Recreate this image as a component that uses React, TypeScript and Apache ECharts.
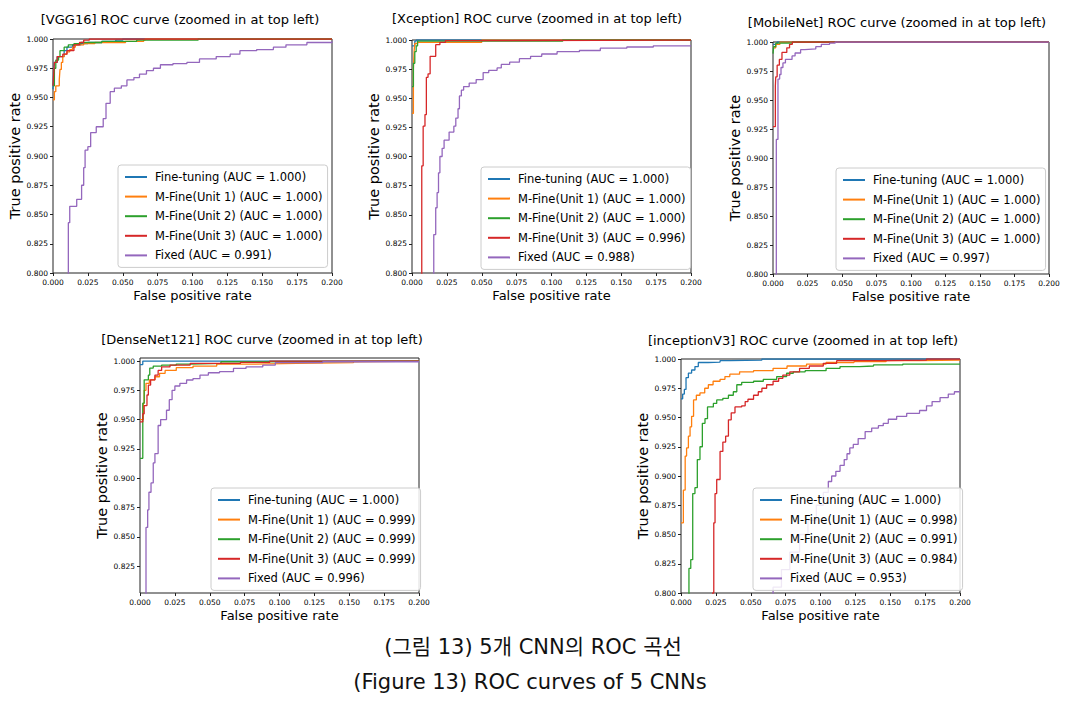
import React, { useEffect, useRef } from "react";
import * as echarts from "echarts";

// ---------- DATA ----------
const curveLabels = ["Fine-tuning", "M-Fine(Unit 1)", "M-Fine(Unit 2)", "M-Fine(Unit 3)", "Fixed"];
const curveColors = ["#1f77b4", "#ff7f0e", "#2ca02c", "#d62728", "#9467bd"];
const panelTitles = [
  "[VGG16] ROC curve (zoomed in at top left)",
  "[Xception] ROC curve (zoomed in at top left)",
  "[MobileNet] ROC curve (zoomed in at top left)",
  "[DenseNet121] ROC curve (zoomed in at top left)",
  "[inceptionV3] ROC curve (zoomed in at top left)",
];
const xTickValues = [0, 0.025, 0.05, 0.075, 0.1, 0.125, 0.15, 0.175, 0.2];
const yTickValuesDense = [0.825, 0.85, 0.875, 0.9, 0.925, 0.95, 0.975, 1.0];
const captionKo = "(그림 13) 5개 CNN의 ROC 곡선";
const captionEn = "(Figure 13) ROC curves of 5 CNNs";

const aucVGG16 = [1.0, 1.0, 1.0, 1.0, 0.991];
const aucXception = [1.0, 1.0, 1.0, 0.996, 0.988];
const aucMobileNet = [1.0, 1.0, 1.0, 1.0, 0.997];
const aucDenseNet = [1.0, 0.999, 0.999, 0.999, 0.996];
const aucInception = [1.0, 0.998, 0.991, 0.984, 0.953];

// VGG16 curves [fpr, tpr]
const vggFine = [[0, 0.957], [0.0005, 0.975], [0.001, 0.98], [0.003, 0.985], [0.008, 0.99], [0.01, 0.993], [0.014, 0.995], [0.02, 0.996], [0.025, 0.997], [0.035, 0.998], [0.045, 0.999], [0.05, 1.0], [0.2, 1.0]];
const vggUnit1 = [[0, 0.948], [0.001, 0.955], [0.002, 0.96], [0.0045, 0.965], [0.005, 0.974], [0.006, 0.98], [0.007, 0.985], [0.008, 0.987], [0.01, 0.989], [0.012, 0.991], [0.014, 0.993], [0.016, 0.995], [0.022, 0.996], [0.03, 0.997], [0.052, 0.998], [0.065, 0.999], [0.066, 1.0], [0.2, 1.0]];
const vggUnit2 = [[0, 0.96], [0.001, 0.975], [0.002, 0.982], [0.004, 0.985], [0.005, 0.99], [0.008, 0.993], [0.011, 0.995], [0.015, 0.996], [0.02, 0.997], [0.035, 0.998], [0.06, 0.999], [0.104, 1.0], [0.2, 1.0]];
const vggUnit3 = [[0, 0.96], [0.0005, 0.97], [0.001, 0.98], [0.003, 0.985], [0.007, 0.987], [0.01, 0.99], [0.015, 0.995], [0.019, 0.997], [0.022, 0.999], [0.026, 1.0], [0.2, 1.0]];
const vggFixed = [[0.011, 0.75], [0.011, 0.843], [0.012, 0.857], [0.017, 0.863], [0.0205, 0.875], [0.022, 0.89], [0.023, 0.905], [0.025, 0.908], [0.027, 0.92], [0.031, 0.925], [0.036, 0.932], [0.038, 0.945], [0.041, 0.955], [0.044, 0.958], [0.049, 0.96], [0.053, 0.965], [0.058, 0.967], [0.062, 0.97], [0.067, 0.973], [0.072, 0.975], [0.077, 0.978], [0.086, 0.979], [0.096, 0.98], [0.105, 0.983], [0.117, 0.985], [0.127, 0.987], [0.134, 0.99], [0.146, 0.991], [0.158, 0.993], [0.167, 0.995], [0.182, 0.997], [0.2, 0.998]];

// Xception curves
const xcpFine = [[0, 0.995], [0.002, 0.999], [0.003, 1.0], [0.2, 1.0]];
const xcpUnit1 = [[0, 0.937], [0.001, 0.975], [0.0015, 0.99], [0.002, 0.997], [0.004, 0.998], [0.05, 0.999], [0.05, 1.0], [0.2, 1.0]];
const xcpUnit2 = [[0, 0.96], [0.001, 0.98], [0.002, 0.99], [0.003, 0.995], [0.004, 0.999], [0.108, 0.999], [0.108, 1.0], [0.2, 1.0]];
const xcpUnit3 = [[0.007, 0.75], [0.007, 0.892], [0.008, 0.926], [0.0093, 0.936], [0.0103, 0.968], [0.0115, 0.971], [0.013, 0.986], [0.017, 0.996], [0.02, 0.998], [0.024, 0.9994], [0.032, 1.0], [0.2, 1.0]];
const xcpFixed = [[0.0156, 0.75], [0.0156, 0.833], [0.017, 0.856], [0.018, 0.869], [0.019, 0.886], [0.02, 0.9], [0.0216, 0.907], [0.023, 0.914], [0.0266, 0.921], [0.03, 0.926], [0.0314, 0.933], [0.033, 0.941], [0.034, 0.952], [0.0354, 0.957], [0.037, 0.96], [0.041, 0.963], [0.046, 0.966], [0.051, 0.972], [0.055, 0.974], [0.061, 0.976], [0.064, 0.979], [0.07, 0.981], [0.077, 0.984], [0.085, 0.986], [0.093, 0.988], [0.104, 0.99], [0.12, 0.991], [0.135, 0.993], [0.154, 0.994], [0.173, 0.995], [0.2, 0.995]];

// MobileNet curves
const mobFine = [[0, 0.998], [0.003, 1.0], [0.2, 1.0]];
const mobUnit1 = [[0, 0.995], [0.002, 0.998], [0.005, 1.0], [0.2, 1.0]];
const mobUnit2 = [[0, 0.99], [0.0005, 0.996], [0.002, 0.999], [0.014, 1.0], [0.2, 1.0]];
const mobUnit3 = [[0, 0.927], [0.0017, 0.962], [0.002, 0.97], [0.003, 0.98], [0.0046, 0.985], [0.0065, 0.991], [0.01, 0.995], [0.012, 0.998], [0.014, 1.0], [0.2, 1.0]];
const mobFixed = [[0.0024, 0.75], [0.0024, 0.916], [0.0036, 0.968], [0.0048, 0.972], [0.0058, 0.978], [0.0072, 0.982], [0.009, 0.985], [0.0138, 0.988], [0.016, 0.9905], [0.02, 0.9934], [0.023, 0.994], [0.031, 0.996], [0.035, 0.998], [0.041, 0.999], [0.045, 1.0], [0.2, 1.0]];

// DenseNet121 curves
const dnsFine = [[0, 0.997], [0.002, 1.0], [0.2, 1.0]];
const dnsUnit1 = [[0, 0.95], [0.0024, 0.964], [0.003, 0.975], [0.0043, 0.981], [0.0067, 0.984], [0.0107, 0.9866], [0.014, 0.9895], [0.018, 0.992], [0.026, 0.9943], [0.038, 0.9957], [0.055, 0.9974], [0.083, 0.998], [0.112, 0.9986], [0.153, 0.9994], [0.153, 1.0], [0.2, 1.0]];
const dnsUnit2 = [[0, 0.917], [0.002, 0.964], [0.003, 0.984], [0.006, 0.988], [0.007, 0.994], [0.0095, 0.9957], [0.0155, 0.9966], [0.026, 0.9974], [0.036, 0.998], [0.058, 0.9994], [0.083, 1.0], [0.2, 1.0]];
const dnsUnit3 = [[0, 0.948], [0.002, 0.955], [0.003, 0.962], [0.005, 0.971], [0.006, 0.9795], [0.0076, 0.984], [0.0107, 0.988], [0.013, 0.992], [0.0155, 0.995], [0.0215, 0.9966], [0.036, 0.998], [0.072, 0.9989], [0.093, 1.0], [0.2, 1.0]];
const dnsFixed = [[0.0043, 0.75], [0.0043, 0.858], [0.0055, 0.873], [0.0064, 0.888], [0.0079, 0.896], [0.0095, 0.913], [0.0107, 0.921], [0.013, 0.945], [0.0148, 0.95], [0.019, 0.958], [0.021, 0.967], [0.023, 0.975], [0.025, 0.9787], [0.0286, 0.981], [0.0334, 0.9838], [0.038, 0.985], [0.043, 0.988], [0.049, 0.99], [0.057, 0.9909], [0.067, 0.9937], [0.076, 0.995], [0.088, 0.9966], [0.097, 0.9986], [0.131, 0.9994], [0.2, 0.9994]];

// inceptionV3 curves
const incFine = [[0, 0.966], [0.0012, 0.97], [0.0024, 0.974], [0.0036, 0.984], [0.0053, 0.988], [0.0076, 0.9906], [0.01, 0.9935], [0.0124, 0.997], [0.0196, 0.9974], [0.028, 0.9986], [0.035, 0.9991], [0.058, 1.0], [0.2, 1.0]];
const incUnit1 = [[0, 0.86], [0.0017, 0.888], [0.003, 0.917], [0.004, 0.924], [0.0053, 0.934], [0.0065, 0.942], [0.0076, 0.951], [0.009, 0.965], [0.011, 0.969], [0.0136, 0.971], [0.017, 0.975], [0.0196, 0.978], [0.023, 0.981], [0.028, 0.9826], [0.0315, 0.985], [0.035, 0.987], [0.042, 0.989], [0.052, 0.99], [0.066, 0.992], [0.076, 0.994], [0.09, 0.9957], [0.104, 0.997], [0.124, 0.9977], [0.147, 0.9986], [0.171, 0.9991], [0.2, 0.9991]];
const incUnit2 = [[0.0057, 0.75], [0.0057, 0.821], [0.007, 0.8285], [0.0084, 0.885], [0.01, 0.89], [0.0117, 0.914], [0.0136, 0.925], [0.0153, 0.945], [0.0172, 0.949], [0.019, 0.959], [0.0232, 0.962], [0.0256, 0.965], [0.03, 0.9664], [0.034, 0.969], [0.0375, 0.972], [0.04, 0.978], [0.0435, 0.98], [0.052, 0.981], [0.059, 0.9826], [0.0686, 0.985], [0.0757, 0.9878], [0.0805, 0.989], [0.089, 0.99], [0.104, 0.992], [0.114, 0.9935], [0.128, 0.994], [0.138, 0.9949], [0.159, 0.9957], [0.2, 0.9957]];
const incUnit3 = [[0.0227, 0.75], [0.0227, 0.8], [0.0235, 0.86], [0.0244, 0.885], [0.0256, 0.897], [0.028, 0.921], [0.03, 0.929], [0.032, 0.934], [0.034, 0.948], [0.036, 0.954], [0.0387, 0.959], [0.0435, 0.96], [0.046, 0.9636], [0.048, 0.9656], [0.052, 0.969], [0.0554, 0.972], [0.058, 0.975], [0.0614, 0.978], [0.066, 0.981], [0.07, 0.9835], [0.073, 0.9863], [0.078, 0.989], [0.085, 0.992], [0.092, 0.994], [0.102, 0.9963], [0.1116, 0.9986], [0.147, 0.9991], [0.176, 1.0], [0.2, 1.0]];
const incFixed = [[0.064, 0.75], [0.064, 0.797], [0.066, 0.805], [0.072, 0.82], [0.078, 0.835], [0.085, 0.85], [0.091, 0.862], [0.097, 0.875], [0.102, 0.886], [0.1056, 0.8953], [0.108, 0.9], [0.111, 0.904], [0.114, 0.909], [0.117, 0.914], [0.119, 0.919], [0.121, 0.924], [0.1235, 0.927], [0.127, 0.932], [0.132, 0.938], [0.1367, 0.941], [0.1415, 0.943], [0.145, 0.945], [0.1486, 0.9485], [0.1546, 0.951], [0.1618, 0.9536], [0.171, 0.956], [0.176, 0.96], [0.18, 0.9636], [0.1857, 0.967], [0.1916, 0.97], [0.196, 0.972], [0.2, 0.972]];

const panelCurves = [
  [vggFine, vggUnit1, vggUnit2, vggUnit3, vggFixed],
  [xcpFine, xcpUnit1, xcpUnit2, xcpUnit3, xcpFixed],
  [mobFine, mobUnit1, mobUnit2, mobUnit3, mobFixed],
  [dnsFine, dnsUnit1, dnsUnit2, dnsUnit3, dnsFixed],
  [incFine, incUnit1, incUnit2, incUnit3, incFixed],
];
const panelAucs = [aucVGG16, aucXception, aucMobileNet, aucDenseNet, aucInception];

// ---------- LAYOUT ----------
const gridBoxes = [
  { left: 53, top: 39, width: 279, height: 234 },
  { left: 412, top: 40, width: 279, height: 233 },
  { left: 773, top: 42, width: 276, height: 232 },
  { left: 140, top: 358, width: 279, height: 235 },
  { left: 681, top: 359, width: 279, height: 234 },
];
const legendBoxes = [
  { left: 118, top: 165 },
  { left: 481, top: 167 },
  { left: 836, top: 168 },
  { left: 211, top: 488 },
  { left: 753, top: 488 },
];
const titlePos = [
  { x: 180, y: 19 },
  { x: 537, y: 18 },
  { x: 897, y: 22 },
  { x: 262, y: 339 },
  { x: 803, y: 340 },
];

const FONT = "'DejaVu Sans', sans-serif";
const CAPTION_FONT = "'DejaVu Sans', 'Noto Sans CJK KR', sans-serif";

function buildOption() {
  const grid: any[] = [];
  const xAxis: any[] = [];
  const yAxis: any[] = [];
  const legend: any[] = [];
  const series: any[] = [];
  const graphic: any[] = [];

  gridBoxes.forEach((g, i) => {
    grid.push({ ...g, show: true, borderColor: "#222", borderWidth: 1, backgroundColor: "#fff", containLabel: false });
    xAxis.push({
      type: "value",
      gridIndex: i,
      min: xTickValues[0],
      max: xTickValues[xTickValues.length - 1],
      interval: 0.025,
      name: "False positive rate",
      nameLocation: "middle",
      nameGap: 16,
      nameTextStyle: { fontSize: 13, color: "#000", fontFamily: FONT },
      axisLine: { show: false },
      axisTick: { show: true, length: 3, lineStyle: { color: "#222" } },
      splitLine: { show: false },
      axisLabel: { fontSize: 7.5, color: "#000", margin: 5, fontFamily: FONT, formatter: (v: number) => v.toFixed(3) },
    });
    const dense = i === 3;
    const yA: any = {
      type: "value",
      gridIndex: i,
      name: "True positive rate",
      nameLocation: "middle",
      nameGap: 27,
      nameTextStyle: { fontSize: 14.5, color: "#000", fontFamily: FONT },
      axisLine: { show: false },
      splitLine: { show: false },
      axisTick: { show: true, length: 3, lineStyle: { color: "#222" } },
      axisLabel: { fontSize: 7.5, color: "#000", margin: 5, fontFamily: FONT, formatter: (v: number) => v.toFixed(3) },
    };
    if (dense) {
      yA.min = 0.802;
      yA.max = 1.0026;
      yA.axisLabel.customValues = yTickValuesDense;
      yA.axisTick.customValues = yTickValuesDense;
    } else {
      yA.min = 0.8;
      yA.max = 1.0;
      yA.interval = 0.025;
    }
    yAxis.push(yA);

    const names = curveLabels.map((l, k) => `${l} (AUC = ${panelAucs[i][k].toFixed(3)})`);
    panelCurves[i].forEach((data, k) => {
      series.push({
        type: "line",
        name: names[k],
        xAxisIndex: i,
        yAxisIndex: i,
        data,
        step: "end",
        showSymbol: false,
        symbol: "none",
        clip: true,
        color: curveColors[k],
        lineStyle: { width: 1.3, color: curveColors[k] },
        z: 2,
      });
    });

    legend.push({
      show: true,
      selectedMode: false,
      orient: "vertical",
      left: legendBoxes[i].left,
      top: legendBoxes[i].top,
      data: names,
      icon: "rect",
      itemWidth: 22,
      itemHeight: 2,
      itemGap: 5.6,
      padding: [5, 5, 5, 7],
      backgroundColor: "rgba(255,255,255,0.85)",
      borderColor: "#cccccc",
      borderWidth: 1,
      borderRadius: 3,
      textStyle: { fontSize: 11.5, color: "#000", fontFamily: FONT, lineHeight: 14, padding: [0, 0, 0, 3] },
      z: 10,
    });

    graphic.push({
      type: "text",
      x: titlePos[i].x,
      y: titlePos[i].y,
      style: { text: panelTitles[i], fontSize: 13, fontFamily: FONT, fill: "#000", textAlign: "center", textVerticalAlign: "middle" },
    });
  });

  graphic.push({
    type: "text",
    x: 533,
    y: 647,
    style: { text: captionKo, fontSize: 21, fontFamily: CAPTION_FONT, fill: "#111", textAlign: "center", textVerticalAlign: "middle" },
  });
  graphic.push({
    type: "text",
    x: 530,
    y: 682,
    style: { text: captionEn, fontSize: 21, fontFamily: CAPTION_FONT, fill: "#111", textAlign: "center", textVerticalAlign: "middle" },
  });

  return {
    animation: false,
    backgroundColor: "#fff",
    textStyle: { fontFamily: FONT },
    grid,
    xAxis,
    yAxis,
    legend,
    series,
    graphic,
  };
}

export default function App() {
  const ref = useRef<HTMLDivElement>(null);
  useEffect(() => {
    if (!ref.current) return;
    const chart = echarts.init(ref.current, undefined, { renderer: "svg" });
    chart.setOption(buildOption() as any);
    return () => chart.dispose();
  }, []);
  return (
    <div
      ref={ref}
      style={{ position: "fixed", left: 0, top: 0, width: 1072, height: 703, background: "#fff" }}
    />
  );
}
